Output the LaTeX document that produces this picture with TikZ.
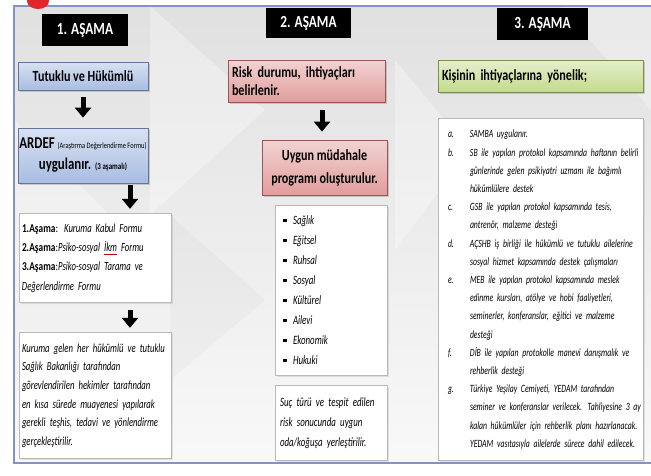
\documentclass[tikz,border=0pt]{standalone}
\usepackage{fontspec}
\setmainfont{Carlito}
\newfontfamily\narrowfont[FakeStretch=0.78]{Carlito}
\newfontfamily\narrowit[FakeStretch=0.70]{Carlito Italic}
\usepackage{xcolor}
\usepackage{tikz}
\usetikzlibrary{arrows.meta, positioning, shadows, calc}
\definecolor{frameblue}{HTML}{8493C6}
\definecolor{alertred}{HTML}{E0262A}
\definecolor{tutblue}{HTML}{A9BDE2}
\definecolor{tutblueedge}{HTML}{62779F}
\definecolor{riskpink}{HTML}{E29C9C}
\definecolor{riskpinkedge}{HTML}{985656}
\definecolor{needgreen}{HTML}{C4DB8E}
\definecolor{needgreenedge}{HTML}{7C8F4E}
% red spell-check mark under a word
\newcommand{\spellmark}[1]{\setbox0\hbox{#1}\rlap{\textcolor{red!75!black}{\rule[-2.4pt]{\wd0}{0.6pt}}}\box0\relax}

\begin{document}
\begin{tikzpicture}[x=1pt, y=-1pt, font=\narrowfont,
    stagebox/.style={fill=black, text=white, inner sep=0pt, font=\narrowfont\bfseries\fontsize{17}{20}\selectfont},
    colorbox/.style={draw=#1edge, line width=0.8pt, top color=#1!45!white, bottom color=#1, inner sep=4pt,
        font=\narrowfont\bfseries\fontsize{15.5}{18}\selectfont,
        drop shadow={opacity=0.35, shadow xshift=1.5pt, shadow yshift=-1.5pt}},
    textbox/.style={draw=gray!55, fill=white, inner sep=3pt,
        drop shadow={opacity=0.2, shadow xshift=1.5pt, shadow yshift=-1.5pt}},
    bigarrow/.style={line width=5pt, -{Triangle[length=10pt, width=16pt]}},
]
    \useasboundingbox (0,0) rectangle (651,475);

    % Background and frame
    \fill[white] (0,0) rectangle (651,475);
    \shade[top color=gray!24, bottom color=gray!5] (14,6) rectangle (651,463);
    \fill[white, opacity=0.3] (150,6) -- (265,110) -- (150,215) -- cycle;
    \fill[white, opacity=0.3] (14,120) -- (110,215) -- (14,300) -- cycle;
    \fill[white, opacity=0.3] (395,60) -- (470,150) -- (395,250) -- cycle;
    \fill[white, opacity=0.3] (560,6) -- (651,6) -- (651,110) -- cycle;
    \fill[gray, opacity=0.05] (170,215) -- (265,300) -- (170,380) -- cycle;
    \draw[frameblue, line width=1.2pt] (651,6) -- (14,6) -- (14,463) -- (651,463);
    \fill[alertred] (38,1) ellipse [x radius=11pt, y radius=8pt];

    % Stage titles
    \node[stagebox, minimum width=86pt, minimum height=32pt] (stage1) at (85,30) {1. AŞAMA};
    \node[stagebox, minimum width=85pt, minimum height=30pt] (stage2) at (308.5,23) {2. AŞAMA};
    \node[stagebox, minimum width=91pt, minimum height=32pt] (stage3) at (542.5,24) {3. AŞAMA};

    % Column 1
    \node[colorbox=tutblue, minimum width=130pt, minimum height=28pt] (tut) at (83,76) {Tutuklu ve Hükümlü};
    \node[colorbox=tutblue, minimum width=130pt, minimum height=55pt, inner xsep=1pt, align=center,
        font=\narrowfont\bfseries\fontsize{16.5}{19}\selectfont] (ardef) at (83,155.5)
        {ARDEF {\fontsize{8.3}{9}\selectfont\mdseries (Araştırma Değerlendirme Formu)}\\[2pt]
         uygulanır. {\fontsize{9}{10}\selectfont (3 aşamalı)}};
    \node[textbox, minimum width=152pt, minimum height=89pt, text width=146pt, align=left,
        font=\narrowfont\fontsize{12}{19.2}\selectfont] (forms) at (95,257.5)
        {\begin{tabular}{@{}l@{}}
         \textbf{1.Aşama}: {\narrowit\fontsize{12.4}{19.2}\selectfont Kuruma Kabul Formu}\\
         \textbf{2.Aşama}:{\narrowit\fontsize{12.4}{19.2}\selectfont Psiko-sosyal \spellmark{İkm} Formu}\\
         \textbf{3.Aşama}:{\narrowit\fontsize{12.4}{19.2}\selectfont Psiko-sosyal Tarama ve}\\
         {\narrowit\fontsize{12.4}{19.2}\selectfont Değerlendirme Formu}
         \end{tabular}};
    \node[textbox, minimum width=152pt, minimum height=126pt, text width=146pt, align=left,
        font=\narrowit\fontsize{12.4}{18.6}\selectfont] (exam) at (95,395)
        {\begin{tabular}{@{}l@{}}
         Kuruma gelen her hükümlü ve tutuklu\\
         Sağlık Bakanlığı  tarafından\\
         görevlendirilen hekimler tarafından\\
         en kısa sürede muayenesi yapılarak\\
         gerekli teşhis, tedavi ve yönlendirme\\
         gerçekleştirilir.
         \end{tabular}};

    % Column 2
    \node[colorbox=riskpink, minimum width=157pt, minimum height=42pt, text width=149pt, align=left] (risk) at (306.5,81)
        {Risk durumu, ihtiyaçları\\belirlenir.};
    \node[colorbox=riskpink, minimum width=125pt, minimum height=55pt, align=center,
        font=\narrowfont\bfseries\fontsize{15.5}{23}\selectfont] (program) at (324.5,167.5)
        {Uygun müdahale\\programı oluşturulur.};
    \node[textbox, minimum width=112pt, minimum height=170pt, text width=106pt, align=left,
        font=\narrowit\fontsize{12.7}{20}\selectfont] (areas) at (331,290)
        {\begin{tabular}{@{\hspace{5pt}}p{10pt}@{}l@{}}
         \rule[0.3ex]{3.5pt}{3.5pt} & Sağlık\\
         \rule[0.3ex]{3.5pt}{3.5pt} & Eğitsel\\
         \rule[0.3ex]{3.5pt}{3.5pt} & Ruhsal\\
         \rule[0.3ex]{3.5pt}{3.5pt} & Sosyal\\
         \rule[0.3ex]{3.5pt}{3.5pt} & Kültürel\\
         \rule[0.3ex]{3.5pt}{3.5pt} & Ailevi\\
         \rule[0.3ex]{3.5pt}{3.5pt} & Ekonomik\\
         \rule[0.3ex]{3.5pt}{3.5pt} & Hukuki
         \end{tabular}};
    \node[textbox, minimum width=112pt, minimum height=75pt, text width=106pt, align=left,
        font=\narrowit\fontsize{12.7}{20}\selectfont] (placement) at (331,422.5)
        {\begin{tabular}{@{\hspace{2pt}}l@{}}
         Suç türü ve tespit edilen\\
         risk sonucunda  uygun\\
         oda/koğuşa  yerleştirilir.
         \end{tabular}};

    % Column 3
    \node[colorbox=needgreen, minimum width=205pt, minimum height=32pt, text width=197pt, align=left] (needs) at (540.5,76)
        {Kişinin ihtiyaçlarına yönelik;};
    \node[textbox, minimum width=205pt, minimum height=342pt, text width=199pt, align=left,
        font=\narrowit\fontsize{11.1}{18.2}\selectfont] (support) at (540.5,289)
        {\begin{tabular}{@{\hspace{7pt}}p{22pt}@{}l@{}}
         a. & SAMBA uygulanır.\\
         b. & SB ile yapılan protokol kapsamında haftanın belirli\\
            & günlerinde gelen psikiyatri uzmanı ile bağımlı\\
            & hükümlülere destek\\
         c. & GSB ile yapılan protokol kapsamında tesis,\\
            & antrenör, malzeme desteği\\
         d. & AÇSHB iş birliği ile hükümlü ve tutuklu ailelerine\\
            & sosyal hizmet kapsamında destek çalışmaları\\
         e. & MEB ile yapılan protokol kapsamında meslek\\
            & edinme kursları, atölye ve hobi faaliyetleri,\\
            & seminerler, konferanslar, eğitici ve malzeme\\
            & desteği\\
         f. & DİB ile yapılan protokolle manevi danışmalık ve\\
            & rehberlik desteği\\
         g. & Türkiye Yeşilay Cemiyeti, YEDAM tarafından\\
            & seminer ve konferanslar verilecek. Tahliyesine 3 ay\\
            & kalan hükümlüler için rehberlik planı hazırlanacak.\\
            & YEDAM vasıtasıyla ailelerde sürece dahil edilecek.
         \end{tabular}};

    % Arrows
    \draw[bigarrow, shorten <=7pt, shorten >=10pt] (tut.south) -- (ardef.north);
    \draw[bigarrow, shorten <=2pt, shorten >=4pt] ([xshift=47pt]ardef.south) -- ([xshift=35pt]forms.north);
    \draw[bigarrow, shorten <=8pt, shorten >=4pt] ([xshift=35pt]forms.south) -- ([xshift=35pt]exam.north);
    \draw[bigarrow, shorten <=8pt, shorten >=8pt] ([xshift=15.5pt]risk.south) -- ([xshift=-2.5pt]program.north);
\end{tikzpicture}
\end{document}
